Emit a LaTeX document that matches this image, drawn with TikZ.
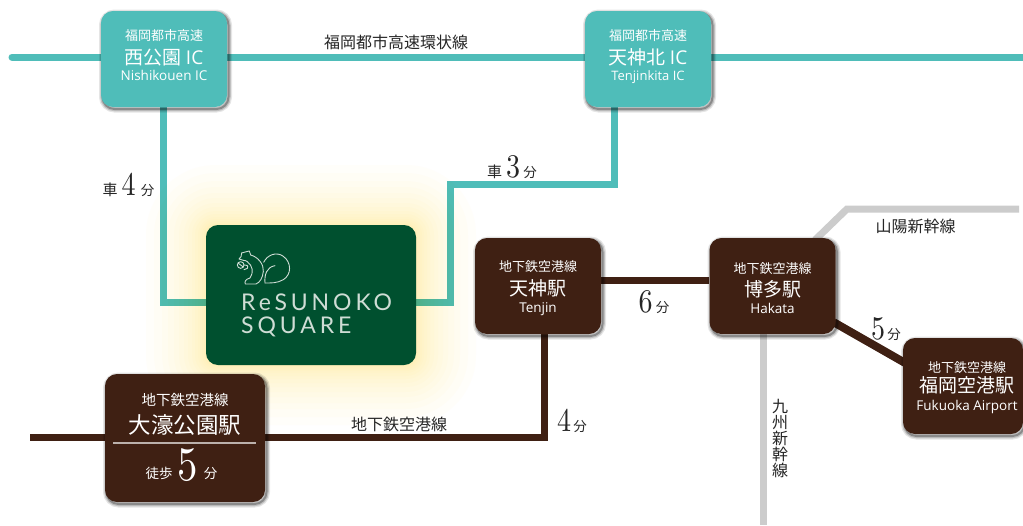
\documentclass[tikz,border=0pt]{standalone}
\usepackage{fontspec}
\usepackage{graphicx}
\newfontfamily\jp{Noto Sans CJK JP}
\newfontfamily\lat{Open Sans}
\newfontfamily\din[LetterSpace=17]{Lato}
\newfontfamily\dgf[Extension=.otf]{lmroman10-regular}
\definecolor{teal}{HTML}{4FBDB9}
\definecolor{brn}{HTML}{3F2013}
\definecolor{grn}{HTML}{00502F}
\definecolor{gry}{HTML}{CCCCCC}
\definecolor{glowc}{HTML}{FFF3A0}
\definecolor{logoc}{HTML}{CFDDD5}
\newcommand{\sz}[1]{\fontsize{#1}{#1}\selectfont}
\newcommand{\dg}[2]{{\dgf\sz{#1}\scalebox{.85}[1]{#2}}}
\newcommand{\lj}[2]{{\jp\sz{#1}#2}}
\newcommand{\upsp}[1]{\rule{0pt}{#1pt}}
\newcommand{\dnsp}[1]{\rule[-#1pt]{0pt}{1pt}}
\pgfdeclarelayer{bg}
\pgfsetlayers{bg,main}
\tikzset{
  x=1pt,y=-1pt,
  softshadow/.style={
    preaction={draw=black,draw opacity=.10,line width=7pt,transform canvas={shift={(1.5pt,-2pt)}}},
    preaction={draw=black,draw opacity=.16,line width=4.5pt,transform canvas={shift={(1.5pt,-2pt)}}},
    preaction={draw=black,draw opacity=.28,line width=2pt,transform canvas={shift={(1.5pt,-2pt)}}}},
  boxbase/.style={rectangle,rounded corners=12pt,inner sep=0pt,align=center,text=white,softshadow},
  icbox/.style={boxbase,fill=teal,minimum width=126pt,minimum height=96pt},
  stbox/.style={boxbase,fill=brn,minimum width=126pt,minimum height=96pt},
  tealline/.style={draw=teal,line width=7pt},
  brnline/.style={draw=brn,line width=7pt},
  gryline/.style={draw=gry,line width=7pt},
  lbl/.style={inner sep=0pt,text=black!85,font=\jp\sz{16}},
  txt/.style={inner sep=0pt,text=white},
  logoline/.style={draw=logoc,line width=.9pt,line join=round,line cap=round},
}
\begin{document}
\begin{tikzpicture}
\useasboundingbox (0,0) rectangle (1023,525);
\begin{pgfonlayer}{bg}
\fill[white] (0,0) rectangle (1023,525);
\end{pgfonlayer}
% named free ends and bends
\coordinate (topL) at (12,57);
\coordinate (topR) at (1023,57);
\coordinate (bend1) at (163,302);
\coordinate (bend2) at (450,302);
\coordinate (bend3) at (450,184);
\coordinate (bend4) at (614,184);
\coordinate (bend5) at (544,437);
\coordinate (brnL) at (30,437);
\coordinate (g1) at (847,209);
\coordinate (g2) at (1019,209);
\coordinate (g3) at (815,240);
\coordinate (g4) at (763,525);
\coordinate (oL) at (113,443);
\coordinate (oR) at (256,443);
% nodes
\node[icbox] (nishi) at (164,59) {\lj{13}{福岡都市高速}\\[6.5pt]\lj{19}{西公園 }{\lat\sz{19}IC}\\[4pt]{\lat\sz{13.5}Nishikouen IC}\dnsp{8}};
\node[icbox] (tenjinkita) at (648,59) {\lj{13}{福岡都市高速}\\[6.5pt]\lj{19}{天神北 }{\lat\sz{19}IC}\\[4pt]{\lat\sz{13}Tenjinkita IC}\dnsp{8}};
\node[rectangle,rounded corners=12pt,fill=grn,minimum width=210pt,minimum height=140pt,inner sep=0pt] (res) at (311,295) {};
\node[stbox] (tenjin) at (538,286) {\upsp{15}\lj{13}{地下鉄空港線}\\[5.5pt]\lj{19}{天神駅}\\[5pt]{\lat\sz{13.5}Tenjin}};
\node[stbox] (hakata) at (772.5,286) {\upsp{15}\lj{13}{地下鉄空港線}\\[5.5pt]\lj{19}{博多駅}\\[5pt]{\lat\sz{13.5}Hakata}};
\node[boxbase,fill=brn,minimum width=120pt,minimum height=96pt] (airport) at (963,386) {};
\node[txt,align=center] (airporttxt) at (967,387.5) {\lj{13}{地下鉄空港線}\\[1.5pt]\lj{19}{福岡空港駅}\\[6pt]{\lat\sz{13.5}Fukuoka Airport}};
\node[boxbase,fill=brn,minimum width=160pt,minimum height=128pt] (otsubo) at (185,438) {};
\node[txt] (o1) at (185,400) {\lj{14.5}{地下鉄空港線}};
\node[txt] (o2) at (185,425) {\lj{22.5}{大濠公園駅}};
\draw[white!65!brn,line width=1.2pt] (oL) -- (oR);
\node[txt,anchor=base] (o3) at (181.5,480.5) {\raisebox{2.5pt}{\lj{13.5}{徒歩}}\hspace{5pt}\dg{48}{5}\hspace{6pt}\raisebox{2.5pt}{\lj{13.5}{分}}};
% connectors
\begin{pgfonlayer}{bg}
\draw[tealline,line cap=round] (topL) -- (topL -| nishi) -- (topL -| tenjinkita) -- (topR);
\draw[tealline,line join=miter] (nishi.south -| bend1) -- (bend1) -- (bend1 -| res.west);
\draw[tealline,line join=miter] (bend2 -| res.east) -- (bend2) -- (bend3) -- (bend4) -- (bend4 |- tenjinkita.south);
\foreach \r in {1,2,4,6,8,11,14,18,22,27,32,38,44,52,60}{
  \fill[glowc,opacity=.05,blend mode=multiply,rounded corners=\r+10] (206-\r,225-\r) rectangle (416+\r,365+\r);
}
\draw[gryline,line join=miter] (g3) -- (g1) -- (g2);
\draw[gryline] (hakata.south -| g4) -- (g4);
\draw[brnline,line join=miter] (tenjin.south -| bend5) -- (bend5) -- (brnL);
\draw[brnline] ([yshift=6pt]tenjin.east) -- ([yshift=6pt]hakata.west);
\draw[brnline,line width=8pt] ([shift={(-2pt,12pt)}]hakata.south east) -- ([shift={(2pt,-25pt)}]airport.north west);
\end{pgfonlayer}
% labels
\node[lbl] (l1) at (396,42) {福岡都市高速環状線};
\node[lbl,anchor=base] (l2) at (128.5,195) {\lj{15}{車}\hspace{4pt}\dg{33}{4}\hspace{5pt}\lj{13.5}{分}};
\node[lbl,anchor=base] (l3) at (512,177) {\lj{15}{車}\hspace{4pt}\dg{33}{3}\hspace{3pt}\lj{13.5}{分}};
\node[lbl,anchor=base] (l4) at (654,312) {\dg{33}{6}\hspace{3pt}\lj{13.5}{分}};
\node[lbl,anchor=base] (l5) at (886,339) {\dg{33}{5}\hspace{2pt}\lj{13.5}{分}};
\node[lbl,anchor=base] (l6) at (572,431) {\dg{33}{4}\hspace{2pt}\lj{13.5}{分}};
\node[lbl] (l7) at (399,424) {地下鉄空港線};
\node[lbl] (l8) at (915.5,226) {山陽新幹線};
\node[lbl,align=center] (l9) at (780,439) {九\\州\\新\\幹\\線};
% logo
\node[inner sep=0pt,anchor=base west,text=logoc] (r1) at (241,310) {\din\sz{23}ReSUNOKO};
\node[inner sep=0pt,anchor=base west,text=logoc] (r2) at (241,333) {\din\sz{23}SQUARE};
\begin{scope}[shift={(230pt,-243pt)},x=.3333pt,y=-.3333pt]
\draw[logoline] (101,58) .. controls (112,35) and (140,25) .. (160,40) .. controls (185,58) and (185,95) .. (160,110) .. controls (142,121) and (120,120) .. (105,120);
\draw[logoline] (105,120) .. controls (103,95) and (110,72) .. (135,68);
\draw[logoline] (35,30) .. controls (42,26) and (52,27) .. (58,24) -- (62,36) .. controls (85,42) and (102,65) .. (100,85) .. controls (98,105) and (90,118) .. (78,123) -- (46,123) .. controls (42,116) and (48,108) .. (60,105);
\draw[logoline] (35,30) .. controls (38,38) and (30,44) .. (27,48) .. controls (35,54) and (46,50) .. (52,56);
\draw[logoline] (32,66) circle [radius=10];
\draw[logoline] (24,60) -- (40,72);
\draw[logoline] (42,66) .. controls (50,64) and (56,68) .. (52,76) -- (42,80);
\draw[logoline] (52,56) .. controls (68,68) and (72,88) .. (60,105);
\end{scope}
\end{tikzpicture}
\end{document}
